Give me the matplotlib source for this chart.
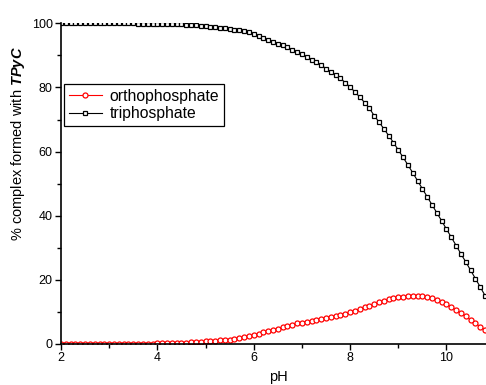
import numpy as np
import matplotlib
matplotlib.use("Agg")
import matplotlib.pyplot as plt
from matplotlib.ticker import MultipleLocator

plt.rcParams['font.family'] = ['Liberation Sans', 'DejaVu Sans']
plt.rcParams['mathtext.fontset'] = 'custom'
plt.rcParams['mathtext.bf'] = 'Liberation Sans:bold:italic'
plt.rcParams['mathtext.rm'] = 'Liberation Sans'

# pH grid, 0.1 steps from 2.0 to 10.8
ph = np.round(np.arange(2.0, 10.85, 0.1), 1)

# % complex formed
ortho = [
    0.0, 0.0, 0.0, 0.0, 0.0, 0.0, 0.0, 0.0, 0.0, 0.0,   # 2.0-2.9
    0.0, 0.1, 0.1, 0.1, 0.1, 0.1, 0.1, 0.1, 0.1, 0.1,   # 3.0-3.9
    0.2, 0.2, 0.2, 0.3, 0.3, 0.4, 0.4, 0.5, 0.6, 0.7,   # 4.0-4.9
    0.8, 0.9, 1.0, 1.1, 1.25, 1.4, 1.6, 1.8, 2.1, 2.4,  # 5.0-5.9
    2.8, 3.2, 3.6, 4.0, 4.4, 4.8, 5.2, 5.6, 6.0, 6.4,   # 6.0-6.9
    6.7, 7.0, 7.3, 7.6, 7.9, 8.2, 8.5, 8.8, 9.1, 9.5,   # 7.0-7.9
    9.9, 10.4, 10.9, 11.4, 11.9, 12.5, 13.0, 13.5, 13.9, 14.3,  # 8.0-8.9
    14.6, 14.8, 15.0, 15.1, 15.1, 15.0, 14.7, 14.3, 13.8, 13.1,  # 9.0-9.9
    12.4, 11.5, 10.6, 9.6, 8.6, 7.5, 6.5, 5.4, 4.4,             # 10.0-10.8
]
tri = [
    100.0, 100.0, 100.0, 100.0, 100.0, 100.0, 100.0, 100.0, 100.0, 100.0,  # 2.0-2.9
    100.0, 100.0, 100.0, 100.0, 100.0, 100.0, 99.9, 99.9, 99.9, 99.9,      # 3.0-3.9
    99.9, 99.9, 99.8, 99.8, 99.8, 99.7, 99.6, 99.5, 99.4, 99.3,            # 4.0-4.9
    99.1, 99.0, 98.8, 98.6, 98.4, 98.2, 98.0, 97.8, 97.5, 97.2,            # 5.0-5.9
    96.6, 96.1, 95.5, 94.9, 94.3, 93.7, 93.1, 92.5, 91.8, 91.1,            # 6.0-6.9
    90.3, 89.6, 88.7, 87.8, 86.9, 85.9, 84.9, 83.9, 82.8, 81.5,            # 7.0-7.9
    80.1, 78.6, 77.0, 75.3, 73.5, 71.2, 69.2, 67.1, 65.0, 62.8,            # 8.0-8.9
    60.5, 58.2, 55.8, 53.4, 50.9, 48.4, 45.9, 43.4, 40.9, 38.4,            # 9.0-9.9
    35.8, 33.3, 30.7, 28.1, 25.6, 23.0, 20.4, 17.8, 15.1,                  # 10.0-10.8
]

fig = plt.figure(figsize=(4.86, 3.85), dpi=100)
ax = fig.add_axes([61/486, 1-344/385, 1-61/486, (344-23.3)/385])

ax.plot(ph, ortho, color='red', lw=0.8, marker='o', ms=3.6, mfc='white',
        mec='red', mew=0.9, label='orthophosphate')
ax.plot(ph, tri, color='black', lw=0.8, marker='s', ms=3.4, mfc='white',
        mec='black', mew=0.9, label='triphosphate')

ax.set_xlim(2, 10.82)
ax.set_ylim(0, 100)
ax.xaxis.set_major_locator(MultipleLocator(2))
ax.xaxis.set_minor_locator(MultipleLocator(1))
ax.yaxis.set_major_locator(MultipleLocator(20))
ax.yaxis.set_minor_locator(MultipleLocator(10))
for s in ['top', 'right']:
    ax.spines[s].set_visible(False)
for s in ['left', 'bottom']:
    ax.spines[s].set_linewidth(1.2)
ax.tick_params(which='major', direction='out', length=4, width=1, labelsize=9, pad=2)
ax.tick_params(which='minor', direction='out', length=3, width=1)

fig.text(18/486, 1-144/385, r'% complex formed with $\mathbf{TPyC}$',
         rotation=90, ha='center', va='center', fontsize=10.5)
fig.text(278/486, 1-377/385, 'pH', ha='center', va='center', fontsize=10.5)

leg = ax.legend(loc='upper left', bbox_to_anchor=(3/425, (344-84)/320.7),
                borderaxespad=0, fancybox=False, edgecolor='black', framealpha=1,
                fontsize=11.3, handlelength=2.1, handletextpad=0.5,
                labelspacing=0.15, borderpad=0.3)
leg.get_frame().set_linewidth(0.9)

fig.savefig('out.png', dpi=100)
